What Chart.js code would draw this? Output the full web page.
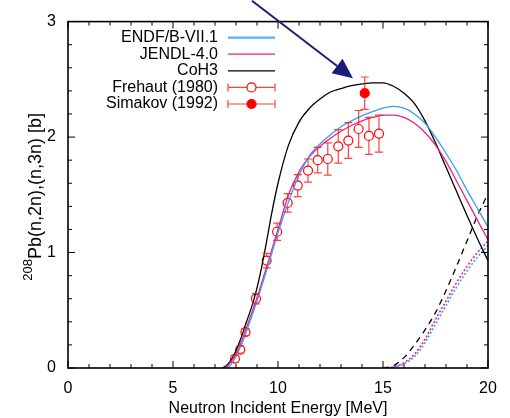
<!DOCTYPE html>
<html>
<head>
<meta charset="utf-8">
<script src="https://cdn.jsdelivr.net/npm/chart.js@4.4.0/dist/chart.umd.min.js"></script>
<style>
    body { margin: 0; background: #fff; }
    #wrap { width: 510px; height: 418px; }
</style>
</head>
<body>
<div id="wrap"><canvas id="xs-chart"></canvas></div>
<script>
// 208Pb (n,2n) / (n,3n) cross sections

// (n,2n) evaluations
const endfE  = [7.6, 7.8, 8.0, 8.3, 8.6, 9.0, 9.5, 10, 10.5, 11, 11.5, 12, 12.5, 13, 13.5, 14, 14.5, 15, 15.5, 16, 16.5, 17, 17.5, 18, 18.5, 19, 19.5, 20];
const endfXs = [0, 0.04, 0.1, 0.22, 0.37, 0.58, 0.87, 1.17, 1.44, 1.67, 1.84, 1.94, 2.02, 2.09, 2.14, 2.185, 2.22, 2.25, 2.265, 2.25, 2.2, 2.12, 2.0, 1.86, 1.71, 1.54, 1.38, 1.22];

const jendlE  = [7.5, 7.7, 8.0, 8.3, 8.6, 9.0, 9.5, 10, 10.5, 11, 11.5, 12, 12.5, 13, 13.5, 14, 14.5, 15, 15.5, 16, 16.5, 17, 17.5, 18, 18.5, 19, 19.5, 20];
const jendlXs = [0, 0.04, 0.12, 0.25, 0.4, 0.61, 0.9, 1.2, 1.5, 1.7, 1.83, 1.92, 1.99, 2.05, 2.1, 2.14, 2.17, 2.19, 2.19, 2.17, 2.12, 2.04, 1.93, 1.79, 1.62, 1.45, 1.28, 1.11];

const cohE  = [7.35, 7.6, 7.9, 8.2, 8.5, 8.8, 9.1, 9.4, 9.7, 10, 10.5, 11, 11.5, 12, 12.5, 13, 13.5, 14, 14.5, 15, 15.5, 16, 16.5, 17, 17.5, 18, 18.5, 19, 19.5, 20];
const cohXs = [0, 0.03, 0.11, 0.24, 0.4, 0.56, 0.77, 1.04, 1.34, 1.6, 1.93, 2.13, 2.25, 2.33, 2.39, 2.42, 2.445, 2.46, 2.47, 2.47, 2.44, 2.38, 2.29, 2.14, 1.95, 1.74, 1.53, 1.32, 1.12, 0.93];

// (n,3n) evaluations
const coh3nE  = [15.0, 15.5, 16, 16.5, 17, 17.5, 18, 18.5, 19, 19.5, 20];
const coh3nXs = [0, 0.02, 0.09, 0.2, 0.33, 0.48, 0.67, 0.88, 1.1, 1.32, 1.51];
const jendl3nE  = [15.2, 15.6, 16, 16.5, 17, 17.5, 18, 18.5, 19, 19.5, 20];
const jendl3nXs = [0, 0.015, 0.045, 0.12, 0.25, 0.42, 0.58, 0.74, 0.88, 1.0, 1.1];
const endf3nE  = [15.3, 15.7, 16, 16.5, 17, 17.5, 18, 18.5, 19, 19.5, 20];
const endf3nXs = [0, 0.015, 0.035, 0.1, 0.22, 0.38, 0.54, 0.7, 0.84, 0.96, 1.06];

// measurements
const frehautE   = [7.95, 8.2, 8.45, 8.95, 9.46, 9.96, 10.46, 10.94, 11.43, 11.89, 12.37, 12.87, 13.35, 13.84, 14.33, 14.81];
const frehautXs  = [0.08, 0.16, 0.31, 0.6, 0.93, 1.18, 1.43, 1.58, 1.71, 1.80, 1.81, 1.92, 1.97, 2.07, 2.01, 2.03];
const frehautErr = [0.03, 0.03, 0.03, 0.045, 0.063, 0.075, 0.08, 0.095, 0.10, 0.11, 0.14, 0.145, 0.155, 0.16, 0.16, 0.16];
const simakovE   = [14.13];
const simakovXs  = [2.38];
const simakovErr = [0.14];

// arrow pointing at the Simakov point (data coords)
const arrowFrom = [8.76, 3.18];
const arrowTo   = [13.57, 2.51];

const xTicks = [0, 5, 10, 15, 20];
const yTicks = [0, 1, 2, 3];

const FONT = "'Liberation Sans', Arial, Helvetica, sans-serif";
const RED = '#ff0000';
const BAR_RED = 'rgba(255,30,30,0.85)';

function pts(xs, ys) {
    return xs.map((x, i) => ({ x: x, y: ys[i] }));
}

function curve(label, xs, ys, color, extra) {
    return Object.assign({
        type: 'line',
        label: label,
        data: pts(xs, ys),
        borderColor: color,
        backgroundColor: color,
        borderWidth: 1.3,
        pointRadius: 0,
        cubicInterpolationMode: 'monotone',
        fill: false
    }, extra || {});
}

// inward tick marks and a closed frame, like gnuplot
const framePlugin = {
    id: 'frame',
    afterDatasetsDraw(chart) {
        const { ctx, chartArea: a, scales: { x, y } } = chart;
        ctx.save();
        ctx.strokeStyle = '#000';
        ctx.lineWidth = 1;
        ctx.beginPath();
        for (let v = 0; v <= 20; v++) {
            const px = x.getPixelForValue(v);
            const len = v % 5 === 0 ? 7 : 4;
            ctx.moveTo(px, a.bottom); ctx.lineTo(px, a.bottom - len);
            ctx.moveTo(px, a.top); ctx.lineTo(px, a.top + len);
        }
        for (let k = 0; k <= 15; k++) {
            const py = y.getPixelForValue(k * 0.2);
            const len = k % 5 === 0 ? 7 : 4;
            ctx.moveTo(a.left, py); ctx.lineTo(a.left + len, py);
            ctx.moveTo(a.right, py); ctx.lineTo(a.right - len, py);
        }
        ctx.stroke();
        ctx.lineWidth = 1.6;
        ctx.strokeRect(a.left, a.top, a.right - a.left, a.bottom - a.top);
        ctx.restore();
    }
};

// vertical error bars for datasets that carry an errors array
const errorBarPlugin = {
    id: 'errorBars',
    afterDatasetsDraw(chart) {
        const { ctx, scales: { y } } = chart;
        ctx.save();
        ctx.strokeStyle = BAR_RED;
        ctx.lineWidth = 1.2;
        chart.data.datasets.forEach((ds, i) => {
            if (!ds.errors) return;
            const meta = chart.getDatasetMeta(i);
            const r = ds.pointRadius;
            meta.data.forEach((el, j) => {
                const v = ds.data[j].y;
                const top = y.getPixelForValue(v + ds.errors[j]);
                const bot = y.getPixelForValue(v - ds.errors[j]);
                ctx.beginPath();
                if (top < el.y - r) { ctx.moveTo(el.x, top); ctx.lineTo(el.x, el.y - r); }
                if (bot > el.y + r) { ctx.moveTo(el.x, el.y + r); ctx.lineTo(el.x, bot); }
                ctx.moveTo(el.x - 4, top); ctx.lineTo(el.x + 4, top);
                ctx.moveTo(el.x - 4, bot); ctx.lineTo(el.x + 4, bot);
                ctx.stroke();
            });
        });
        ctx.restore();
    }
};

// legend in the upper-left corner: text right-aligned, sample on the right
const legendPlugin = {
    id: 'sideLegend',
    afterDraw(chart) {
        const { ctx, chartArea: a } = chart;
        const textRight = a.left + 150;
        const x0 = a.left + 160, x1 = a.left + 207, xm = (x0 + x1) / 2;
        let row = 0;
        ctx.save();
        ctx.font = '16px ' + FONT;
        ctx.textAlign = 'right';
        ctx.textBaseline = 'middle';
        chart.data.datasets.forEach(ds => {
            if (ds.noLegend) return;
            const yy = a.top + 16 + row * 16.6;
            ctx.fillStyle = '#000';
            ctx.fillText(ds.label, textRight, yy);
            ctx.beginPath();
            if (ds.errors) {
                ctx.strokeStyle = BAR_RED;
                ctx.lineWidth = 1.2;
                ctx.moveTo(x0, yy); ctx.lineTo(xm - ds.pointRadius, yy);
                ctx.moveTo(xm + ds.pointRadius, yy); ctx.lineTo(x1, yy);
                ctx.moveTo(x0, yy - 4); ctx.lineTo(x0, yy + 4);
                ctx.moveTo(x1, yy - 4); ctx.lineTo(x1, yy + 4);
                ctx.stroke();
                ctx.beginPath();
                ctx.arc(xm, yy, ds.pointRadius, 0, Math.PI * 2);
                ctx.strokeStyle = RED;
                ctx.lineWidth = 1.2;
                if (ds.filled) { ctx.fillStyle = RED; ctx.fill(); }
                ctx.stroke();
            } else {
                ctx.strokeStyle = ds.legendColor || ds.borderColor;
                ctx.lineWidth = ds.legendWidth || ds.borderWidth;
                ctx.moveTo(x0, yy); ctx.lineTo(x1, yy);
                ctx.stroke();
            }
            row++;
        });
        ctx.restore();
    }
};

// y title with a superscript mass number, plus the arrow annotation
const extrasPlugin = {
    id: 'extras',
    afterDraw(chart) {
        const { ctx, chartArea: a, scales: { x, y } } = chart;
        ctx.save();
        const sup = '208', main = 'Pb(n,2n),(n,3n) [b]';
        ctx.font = '13px ' + FONT;
        const wSup = ctx.measureText(sup).width;
        ctx.font = '18px ' + FONT;
        const wMain = ctx.measureText(main).width;
        const cy = (a.top + a.bottom) / 2 + 2;
        ctx.translate(36, cy);
        ctx.rotate(-Math.PI / 2);
        ctx.fillStyle = '#000';
        ctx.textAlign = 'left';
        ctx.textBaseline = 'middle';
        const start = -(wSup + wMain) / 2;
        ctx.font = '13px ' + FONT;
        ctx.fillText(sup, start, -8);
        ctx.font = '18px ' + FONT;
        ctx.fillText(main, start + wSup, 0);
        ctx.restore();

        // arrow
        const sx = x.getPixelForValue(arrowFrom[0]), sy = y.getPixelForValue(arrowFrom[1]);
        const ex = x.getPixelForValue(arrowTo[0]), ey = y.getPixelForValue(arrowTo[1]);
        const ang = Math.atan2(ey - sy, ex - sx);
        const headLen = 20, headW = 9;
        const bx = ex - headLen * Math.cos(ang), by = ey - headLen * Math.sin(ang);
        ctx.save();
        ctx.strokeStyle = '#1c1c7c';
        ctx.fillStyle = '#1c1c7c';
        ctx.lineWidth = 2;
        ctx.beginPath();
        ctx.moveTo(sx, sy);
        ctx.lineTo(bx, by);
        ctx.stroke();
        ctx.beginPath();
        ctx.moveTo(ex, ey);
        ctx.lineTo(bx + headW * Math.sin(ang), by - headW * Math.cos(ang));
        ctx.lineTo(bx - headW * Math.sin(ang), by + headW * Math.cos(ang));
        ctx.closePath();
        ctx.fill();
        ctx.restore();
    }
};

function drawChart() {
    const ctx = document.getElementById('xs-chart');

    new Chart(ctx, {
        type: 'line',
        data: {
            datasets: [
                curve('ENDF/B-VII.1', endfE, endfXs, '#3a9ff0', { legendWidth: 2.2, legendColor: '#5aaff5' }),
                curve('JENDL-4.0', jendlE, jendlXs, '#ec2089'),
                curve('CoH3', cohE, cohXs, '#000000'),
                {
                    type: 'line',
                    label: 'Frehaut (1980)',
                    data: pts(frehautE, frehautXs),
                    errors: frehautErr,
                    showLine: false,
                    pointRadius: 4.5,
                    pointBorderWidth: 1.2,
                    pointBorderColor: RED,
                    pointBackgroundColor: 'rgba(0,0,0,0)',
                    borderColor: RED
                },
                {
                    type: 'line',
                    label: 'Simakov (1992)',
                    data: pts(simakovE, simakovXs),
                    errors: simakovErr,
                    filled: true,
                    showLine: false,
                    pointRadius: 4.5,
                    pointBorderWidth: 1.2,
                    pointBorderColor: RED,
                    pointBackgroundColor: RED,
                    borderColor: RED
                },
                curve('CoH3 (n,3n)', coh3nE, coh3nXs, '#000000', { noLegend: true, borderDash: [6, 5] }),
                curve('JENDL-4.0 (n,3n)', jendl3nE, jendl3nXs, '#ec2089', { noLegend: true, borderDash: [2, 2], borderWidth: 1.6 }),
                curve('ENDF/B-VII.1 (n,3n)', endf3nE, endf3nXs, '#3a9ff0', { noLegend: true, borderDash: [2, 2], borderWidth: 1.6 })
            ]
        },
        options: {
            responsive: true,
            maintainAspectRatio: false,
            animation: false,
            layout: {
                padding: { top: 21, right: 22, left: 0, bottom: 0 }
            },
            plugins: {
                legend: { display: false },
                tooltip: { enabled: false }
            },
            scales: {
                x: {
                    type: 'linear',
                    min: 0,
                    max: 20,
                    afterFit: function(scale) { scale.height = 50; },
                    afterBuildTicks: function(scale) {
                        scale.ticks = xTicks.map(v => ({ value: v }));
                    },
                    grid: { display: false, drawTicks: false },
                    border: { display: false },
                    ticks: {
                        color: '#000',
                        padding: 11,
                        maxRotation: 0,
                        font: { family: FONT, size: 16 }
                    },
                    title: {
                        display: true,
                        text: 'Neutron Incident Energy [MeV]',
                        color: '#000',
                        font: { family: FONT, size: 16 },
                        padding: { top: 0, bottom: 0 }
                    }
                },
                y: {
                    type: 'linear',
                    min: 0,
                    max: 3,
                    afterFit: function(scale) { scale.width = 68; },
                    afterBuildTicks: function(scale) {
                        scale.ticks = yTicks.map(v => ({ value: v }));
                    },
                    grid: { display: false, drawTicks: false },
                    border: { display: false },
                    ticks: {
                        color: '#000',
                        padding: 12,
                        font: { family: FONT, size: 16 }
                    }
                }
            }
        },
        plugins: [framePlugin, errorBarPlugin, legendPlugin, extrasPlugin]
    });
}

document.addEventListener('DOMContentLoaded', drawChart);
</script>
</body>
</html>
